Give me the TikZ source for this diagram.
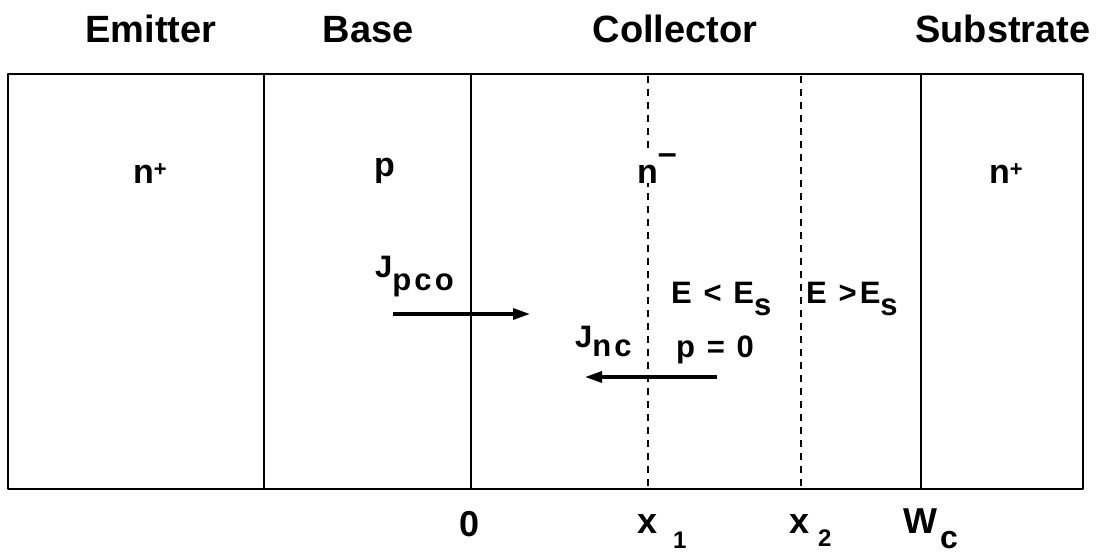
\documentclass[tikz,border=0pt]{standalone}
\usepackage{fontspec}
\setmainfont{Liberation Sans}
\newfontfamily\spacedsans[LetterSpace=10]{Liberation Sans}
\usepackage{tikz}
\usetikzlibrary{arrows.meta,positioning,calc}
\tikzset{
    every picture/.style={line cap=round,line join=round},
    region/.style={draw=black,line width=1.6pt},
    cutline/.style={draw=black,line width=1.4pt,line cap=butt,dash pattern=on 7pt off 6pt},
    headlabel/.style={font=\fontsize{38}{40}\selectfont\bfseries,inner sep=0pt,anchor=base},
    doplabel/.style={font=\fontsize{34}{36}\selectfont\bfseries,inner sep=0pt,anchor=base west},
    innerlabel/.style={font=\spacedsans\fontsize{31}{33}\selectfont\bfseries,inner sep=0pt,anchor=base west},
    axislabel/.style={font=\fontsize{36}{38}\selectfont\bfseries,inner sep=0pt,anchor=base west},
    fluxarrow/.style={-{Triangle[length=17pt,width=11pt]},line width=3.2pt,line cap=butt}
}
\newcommand{\lowsub}[2][12pt]{\raisebox{-#1}{#2}}

\begin{document}
\begin{tikzpicture}[x=1pt,y=-1pt]
  \useasboundingbox (0,0) rectangle (1118,556);
  % device outline and region boundaries
  \coordinate (tl) at (8,74); \coordinate (br) at (1083,489);
  \draw[region] (tl) rectangle (br);
  \foreach \xb/\nm in {264/eb,471/bc,921/cs}{
    \coordinate (\nm-t) at (\xb,74); \coordinate (\nm-b) at (\xb,489);
    \draw[region] (\nm-t) -- (\nm-b);}
  \foreach \xb/\nm in {648/xa,801/xb}{
    \coordinate (\nm-t) at (\xb,76); \coordinate (\nm-b) at (\xb,487);
    \draw[cutline] (\nm-t) -- (\nm-b);}

  % region names
  \node[headlabel] (emit) at (151,43) {Emitter};
  \node[headlabel] (base) at (368,43) {Base};
  \node[headlabel] (coll) at (675,43) {Collector};
  \node[headlabel] (subs) at (1003,43) {Substrate};

  % doping
  \node[doplabel] (de) at (133,183) {n\raisebox{7pt}{\fontsize{22}{22}\selectfont +}};
  \node[doplabel] (db) at (374,177) {p};
  \node[doplabel,fill=white] (dc) at (637,183) {n\raisebox{19pt}{–}};
  \node[doplabel] (ds) at (989,183) {n\raisebox{7pt}{\fontsize{22}{22}\selectfont +}};

  % currents and field conditions
  \node[innerlabel] (jpco) at (375,277) {J\lowsub[13pt]{pco}};
  \node[innerlabel] (jnc) at (575,347) {J\lowsub[9pt]{nc}};
  \node[innerlabel] (elow) at (671,303) {E < E\lowsub{s}};
  \node[innerlabel] (ehigh) at (806,303) {E >E\lowsub{s}};
  \node[innerlabel] (pzero) at (676,357) {p = 0};
  \coordinate (jpco-s) at (393,314); \coordinate (jpco-e) at (530,314);
  \coordinate (jnc-s) at (717,377); \coordinate (jnc-e) at (585,377);
  \draw[fluxarrow] (jpco-s) -- (jpco-e);
  \draw[fluxarrow] (jnc-s) -- (jnc-e);

  % positions along the collector
  \node[headlabel,font=\fontsize{36}{38}\selectfont\bfseries] (xo) at (470,536) {0};
  \node[axislabel] (xone) at (637,533) {x\hspace{16pt}\lowsub[15pt]{\fontsize{24}{24}\selectfont 1}};
  \node[axislabel] (xtwo) at (789,533) {x\hspace{9pt}\lowsub[13pt]{\fontsize{24}{24}\selectfont 2}};
  \node[axislabel] (wc) at (903,533) {W\hspace{3pt}\lowsub[15pt]{\fontsize{32}{32}\selectfont c}};
\end{tikzpicture}
\end{document}
